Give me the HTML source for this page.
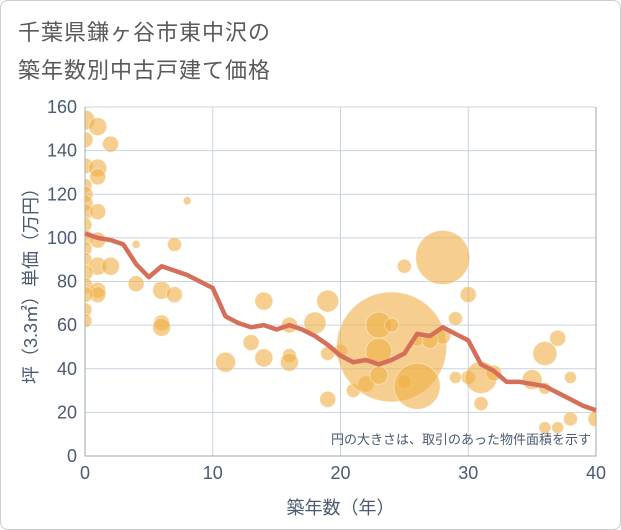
<!DOCTYPE html>
<html><head><meta charset="utf-8"><style>
body{margin:0;background:#fff;}
#wrap{position:relative;width:619px;height:528px;border:1px solid #ccc;border-radius:8px;overflow:hidden;font-family:"Liberation Sans","Noto Sans CJK JP",sans-serif;}
.t{position:absolute;left:17px;font-size:22px;color:#5a5a5a;letter-spacing:1px}
</style></head><body>
<div id="wrap">
<div class="t" style="top:14px">千葉県鎌ヶ谷市東中沢の</div>
<div class="t" style="top:52px">築年数別中古戸建て価格</div>
<svg id="c" width="621" height="530" style="position:absolute;left:-1px;top:-1px"></svg>
</div>
<script>
const lineX=[0,1,2,3,4,5,6,7,8,9,10,11,12,13,14,15,16,17,18,19,20,21,22,23,24,25,26,27,28,29,30,31,32,33,34,35,36,37,38,39,40];
const lineY=[102,100,99,97,88,82,87,85,83,80,77,64,61,59,60,58,60,58,55,51,46,43,44,42,44,47,56,55,59,56,53,42,39,34,34,33,32,29,26,23,21];
const bubX=[0,0,1,2,0,1,1,0,0,0,0,1,8,0,0,1,0,4,7,0,1,2,0,0,1,1,0,4,6,7,0,0,6,6,11,13,14,14,16,16,16,18,19,19,19,20,21,22,24,23,24,23,23,25,26,25,28,28,26,27,30,29,30,29,31,31,32,35,37,36,38,36,36,37,38,40];
const bubY=[154,145,151,143,133,132,128,124,120,116,112,112,117,106,100,99,95,97,97,90,87,87,84,78,76,74,74,79,76,74,67,62,61,59,43,52,71,45,60,46,43,61,71,47,26,48,30,33,50,60,60,48,37,34,32,87,91,55,53,53,74,63,36,36,36,24,38,35,54,47,36,31,13,13,17,17];
const bubR=[10,8,9,8,8,9,8,7,8,8,8,8,4,7,8,8,7,4,7,7,9,9,8,8,8,8,8,8,9,8,7,7,8,9,10,8,9,9,8,7,9,11,11,7,8,7,7,8,55,13,7,13,9,7,23,7,27,8,6,8,8,7,7,6,16,7,8,10,8,12,6,6,6,6,7,8];
const xTicks=[0,10,20,30,40];
const yTicks=[0,20,40,60,80,100,120,140,160];
const L=85,R=596,T=107,B=456;
const sx=v=>L+v*(R-L)/40, sy=v=>B-v*(B-T)/160;
const svg=document.getElementById('c'),NS='http://www.w3.org/2000/svg';
function mk(t,a,p){const e=document.createElementNS(NS,t);for(const k in a)e.setAttribute(k,a[k]);(p||svg).appendChild(e);return e;}
yTicks.forEach(v=>{const l=mk('line',{x1:L,x2:R,y1:sy(v),y2:sy(v),stroke:'#c9d4e2','stroke-width':1});

const t=mk('text',{x:L-8,y:sy(v)+6,'text-anchor':'end','font-size':18,fill:'#4a5a70'});t.textContent=v;
});
xTicks.forEach(v=>{const l=mk('line',{x1:sx(v),x2:sx(v),y1:T,y2:B,stroke:'#c9d4e2','stroke-width':1});

const t=mk('text',{x:sx(v),y:B+23,'text-anchor':'middle','font-size':18,fill:'#4a5a70'});t.textContent=v;
});
const ax=mk('path',{d:`M${L},${T}V${B}H${R}V${T}`,fill:'none',stroke:'#9aa',"stroke-width":1});

const g=mk('g',{'clip-path':'url(#cp)'});
const cp=mk('clipPath',{id:'cp'});mk('rect',{x:L,y:T,width:R-L,height:B-T},cp);
bubX.forEach((x,i)=>{const c=mk('circle',{cx:sx(x),cy:sy(bubY[i]),r:bubR[i],fill:'rgba(240,175,70,0.6)',stroke:'rgba(255,255,255,0.4)','stroke-width':1},g);
});
const pl=mk('polyline',{points:lineX.map((x,i)=>sx(x)+','+sy(lineY[i])).join(' '),fill:'none',stroke:'#d66f5a','stroke-width':4.5,'stroke-linejoin':'round'});

const n=mk('text',{x:591,y:444,'text-anchor':'end','font-size':13,fill:'#4a5a70'});n.textContent='円の大きさは、取引のあった物件面積を示す';

const xt=mk('text',{x:sx(20),y:514,'text-anchor':'middle','font-size':18,fill:'#4a5a70'});xt.textContent='築年数（年）';

const yt=mk('text',{x:0,y:0,'text-anchor':'middle','font-size':18,fill:'#4a5a70',transform:`translate(37,${(T+B)/2}) rotate(-90)`});yt.textContent='坪（3.3㎡）単価（万円）';

</script>
</body></html>
